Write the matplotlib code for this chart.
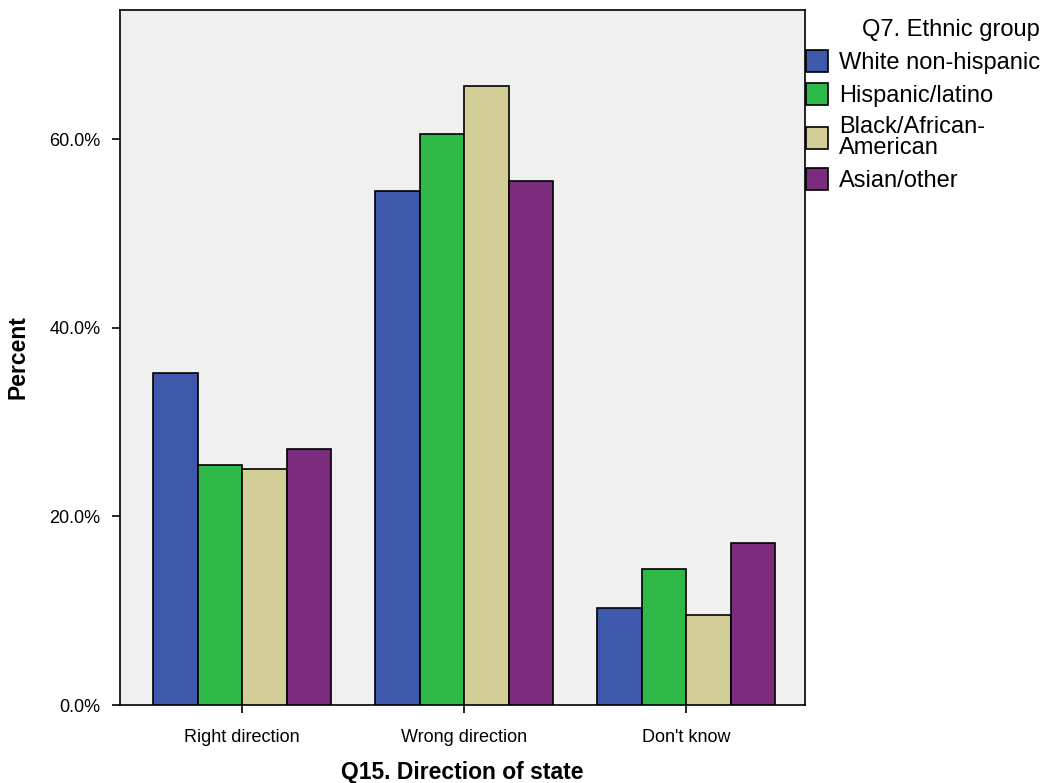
import matplotlib
matplotlib.use("Agg")
import matplotlib.pyplot as plt
import numpy as np
from matplotlib.ticker import FuncFormatter

plt.rcParams['font.family'] = ['Liberation Sans', 'DejaVu Sans']

categories = ["Right direction", "Wrong direction", "Don't know"]
groups = ["White non-hispanic", "Hispanic/latino", "Black/African-\nAmerican", "Asian/other"]
colors = ["#3E58AC", "#2EB848", "#D3CE97", "#7B2C7D"]
values = {
    "White non-hispanic": [35.2, 54.5, 10.3],
    "Hispanic/latino": [25.4, 60.5, 14.4],
    "Black/African-\nAmerican": [25.0, 65.6, 9.5],
    "Asian/other": [27.2, 55.6, 17.2],
}
yticks = [0, 20, 40, 60]

fig = plt.figure(figsize=(10.49, 7.83), dpi=100)
ax = fig.add_axes([120/1049, 1-705/783, (805-120)/1049, (705-10)/783])
ax.set_facecolor("#F0F0F0")

x = np.arange(len(categories))
w = 0.2
for i, g in enumerate(groups):
    ax.bar(x + (i - 1.5) * w, values[g], w, color=colors[i], edgecolor="black",
           linewidth=1.2, label=g, zorder=3)

ax.set_xlim(-0.55, 2.535)
ax.set_ylim(0, 73.7)
ax.set_yticks(yticks)
ax.yaxis.set_major_formatter(FuncFormatter(lambda v, p: f"{v:.1f}%"))
ax.set_xticks(x)
ax.set_xticklabels(categories)
ax.tick_params(axis='both', labelsize=13, length=6, width=1.2, colors='black')
ax.tick_params(axis='y', pad=8)
ax.tick_params(axis='x', pad=11)
for s in ax.spines.values():
    s.set_linewidth(1.2)
ax.set_ylabel("Percent", fontsize=16.5, fontweight='bold', labelpad=14)
ax.set_xlabel("Q15. Direction of state", fontsize=16.5, fontweight='bold', labelpad=11)

leg = fig.legend(loc='upper left', bbox_to_anchor=(806/1049, 1-19/783), frameon=False,
                 title="Q7. Ethnic group", fontsize=17, title_fontsize=17,
                 handlelength=0.95, handleheight=1.05, handletextpad=0.45,
                 labelspacing=0.38, borderaxespad=0, borderpad=0)
leg._legend_box.align = "right"
for t in leg.get_texts():
    t.set_linespacing(0.95)

fig.savefig("out.png", dpi=100)
